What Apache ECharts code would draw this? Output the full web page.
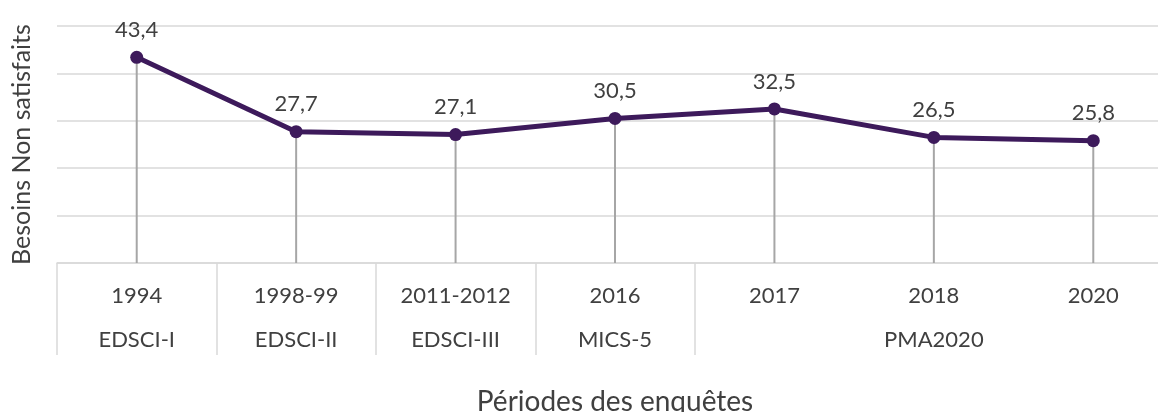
<!DOCTYPE html>
<html>
<head>
<meta charset="utf-8">
<script src="https://cdn.jsdelivr.net/npm/echarts@6/dist/echarts.min.js"></script>
<style>
  html, body { margin: 0; padding: 0; background: #fff; }
  #chart { width: 1158px; height: 412px; }
</style>
</head>
<body>
<div id="chart"></div>
<script>
const years = ['1994', '1998-99', '2011-2012', '2016', '2017', '2018', '2020']
const surveys = ['EDSCI-I', 'EDSCI-II', 'EDSCI-III', 'MICS-5', '', 'PMA2020', '']
const besoins = [43.4, 27.7, 27.1, 30.5, 32.5, 26.5, 25.8]
// group boundaries drawn before these categories
const groupStarts = [0, 1, 2, 3, 4]

const textColor = '#404040'
const gridColor = '#d9d9d9'
const font = 'Lato'

const chart = echarts.init(document.getElementById('chart'))

chart.setOption({
  animation: false,
  grid: { left: 57, width: 1116, top: 26, height: 237, outerBoundsMode: 'none', containLabel: false },
  xAxis: [
    {
      type: 'category',
      data: years,
      name: 'Périodes des enquêtes',
      nameLocation: 'middle',
      nameGap: 125,
      nameTextStyle: { color: textColor, fontFamily: font, fontSize: 28 },
      axisLine: { lineStyle: { color: gridColor, width: 1.5 } },
      axisTick: {
        show: true,
        length: 92,
        interval: (i) => groupStarts.includes(i),
        lineStyle: { color: gridColor, width: 1.5 }
      },
      axisLabel: { color: textColor, fontFamily: font, fontSize: 22, margin: 22, interval: 0 }
    },
    {
      type: 'category',
      data: surveys,
      position: 'bottom',
      axisLine: { show: false },
      axisTick: { show: false },
      axisLabel: { color: textColor, fontFamily: font, fontSize: 22, margin: 66, interval: 0 }
    }
  ],
  yAxis: {
    type: 'value',
    min: 0,
    max: 50,
    interval: 10,
    name: 'Besoins Non satisfaits',
    nameLocation: 'middle',
    nameGap: 23,
    nameTextStyle: { color: textColor, fontFamily: font, fontSize: 25 },
    axisLabel: { show: false },
    axisLine: { show: false },
    axisTick: { show: false },
    splitLine: { lineStyle: { color: gridColor, width: 1.5 } }
  },
  series: [
    {
      type: 'bar',
      data: besoins,
      barWidth: 2,
      itemStyle: { color: '#a6a6a6' },
      silent: true,
      z: 1
    },
    {
      type: 'line',
      data: besoins,
      symbol: 'circle',
      symbolSize: 13,
      lineStyle: { color: '#3d1a5b', width: 5 },
      itemStyle: { color: '#3d1a5b' },
      z: 3,
      label: {
        show: true,
        position: 'top',
        distance: 10,
        color: textColor,
        fontFamily: font,
        fontSize: 22,
        formatter: (p) => String(p.value).replace('.', ',')
      }
    }
  ]
})
</script>
</body>
</html>
